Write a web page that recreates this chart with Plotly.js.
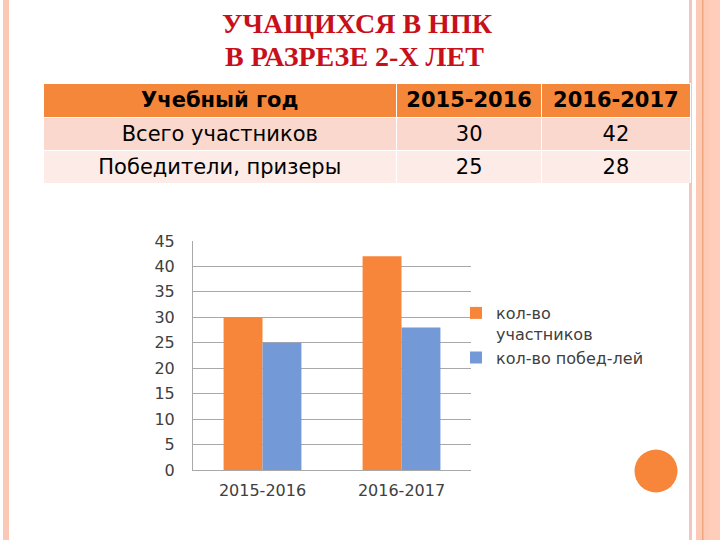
<!DOCTYPE html>
<html>
<head>
<meta charset="utf-8">
<script src="https://cdn.plot.ly/plotly-3.0.1.min.js"></script>
<style>
html,body{margin:0;padding:0;background:#fff;}
#chart{width:720px;height:540px;}
</style>
</head>
<body>
<div id="chart"></div>
<script>
// ---- data ----
var titleLines = ["УЧАЩИХСЯ В НПК", "В РАЗРЕЗЕ 2-Х ЛЕТ"];
var years = ["2015-2016", "2016-2017"];
var tableHeader = ["Учебный год", "2015-2016", "2016-2017"];
var rowLabels = ["Всего участников", "Победители, призеры"];
var participants = [30, 42];
var winners = [25, 28];
var seriesNames = ["кол-во<br>участников", "кол-во побед-лей"];

// ---- helpers: pixel -> paper ----
var W = 720, H = 540;
function px(x){ return x / W; }
function py(y){ return 1 - y / H; }

var tableFont = "DejaVu Sans, Noto Sans, sans-serif";
var rowFill = ["#FAD8CD", "#FCEBE6"];
var tableTrace = {
  type: "table",
  domain: {x: [px(43), px(690)], y: [py(183), py(83)]},
  columnwidth: [353, 145, 148],
  header: {
    values: tableHeader,
    align: "center",
    height: 34,
    fill: {color: "#F5873B"},
    line: {color: "#FFFFFF", width: 1},
    font: {family: tableFont, size: 21, color: "#000000", weight: "bold"}
  },
  cells: {
    values: [rowLabels,
             [participants[0], winners[0]],
             [participants[1], winners[1]]],
    align: "center",
    height: 33,
    fill: {color: [rowFill, rowFill, rowFill]},
    line: {color: "#FFFFFF", width: 1},
    font: {family: tableFont, size: 21, color: "#000000"}
  }
};

var barOrange = {
  type: "bar", x: years, y: participants, name: seriesNames[0],
  marker: {color: "#F7863A"}, xaxis: "x", yaxis: "y"
};
var barBlue = {
  type: "bar", x: years, y: winners, name: seriesNames[1],
  marker: {color: "#7399D6"}, xaxis: "x", yaxis: "y"
};

var gridCol = "#A8A8A8";
var chartFont = "DejaVu Sans, sans-serif";
var titleFont = {family: "Liberation Serif, Times New Roman, serif", size: 28, color: "#C8101A", weight: "bold"};
var layout = {
  width: W, height: H,
  margin: {l: 0, r: 0, t: 0, b: 0},
  paper_bgcolor: "#FFFFFF",
  plot_bgcolor: "rgba(0,0,0,0)",
  showlegend: true,
  barmode: "group",
  bargap: 0.44,
  bargroupgap: 0,
  font: {family: chartFont, color: "#404040"},
  xaxis: {
    domain: [px(193), px(471)],
    anchor: "y",
    showgrid: false,
    showline: true, linecolor: gridCol, linewidth: 1,
    ticks: "",
    ticklabelstandoff: 6,
    tickfont: {family: chartFont, size: 16, color: "#404040"},
    fixedrange: true
  },
  yaxis: {
    domain: [py(470), py(241)],
    anchor: "x",
    range: [0, 45],
    dtick: 5,
    tick0: 0,
    showgrid: true, gridcolor: gridCol, gridwidth: 1,
    showline: true, linecolor: gridCol, linewidth: 1,
    zeroline: false,
    ticks: "",
    ticklabelstandoff: 14,
    tickfont: {family: chartFont, size: 16, color: "#404040"},
    fixedrange: true
  },
  legend: {
    x: px(456), y: py(296), xanchor: "left", yanchor: "top",
    font: {family: chartFont, size: 16, color: "#404040"},
    bgcolor: "rgba(0,0,0,0)",
    itemwidth: 30,
    valign: "top",
    tracegroupgap: 2
  },
  annotations: [
    {xref: "paper", yref: "paper", x: px(357), y: py(23), text: titleLines[0],
     showarrow: false, xanchor: "center", yanchor: "middle", font: titleFont},
    {xref: "paper", yref: "paper", x: px(354), y: py(57), text: titleLines[1],
     showarrow: false, xanchor: "center", yanchor: "middle", font: titleFont}
  ],
  shapes: [
    // left border stripe
    {type: "rect", xref: "paper", yref: "paper", x0: px(3), x1: px(9), y0: 0, y1: 1,
     fillcolor: "#F9C9B6", line: {width: 0}, layer: "below"},
    // right border
    {type: "rect", xref: "paper", yref: "paper", x0: px(689), x1: px(692), y0: 0, y1: 1,
     fillcolor: "#F2C6BC", line: {width: 0}, layer: "below"},
    {type: "rect", xref: "paper", yref: "paper", x0: px(696), x1: px(720), y0: 0, y1: 1,
     fillcolor: "#FDCAB6", line: {width: 0}, layer: "below"},
    {type: "rect", xref: "paper", yref: "paper", x0: px(702), x1: px(703.5), y0: 0, y1: 1,
     fillcolor: "#F0A67E", line: {width: 0}, layer: "below"},
    {type: "rect", xref: "paper", yref: "paper", x0: px(709), x1: px(720), y0: 0, y1: 1,
     fillcolor: "#FFCDBA", line: {width: 0}, layer: "below"},
    // orange circle
    {type: "circle", xref: "paper", yref: "paper",
     x0: px(634.5), x1: px(677.5), y0: py(492.5), y1: py(449.5),
     fillcolor: "#F7863A", line: {width: 0}, layer: "above"}
  ]
};

Plotly.newPlot("chart", [tableTrace, barOrange, barBlue], layout, {displayModeBar: false, staticPlot: true});
</script>
</body>
</html>
